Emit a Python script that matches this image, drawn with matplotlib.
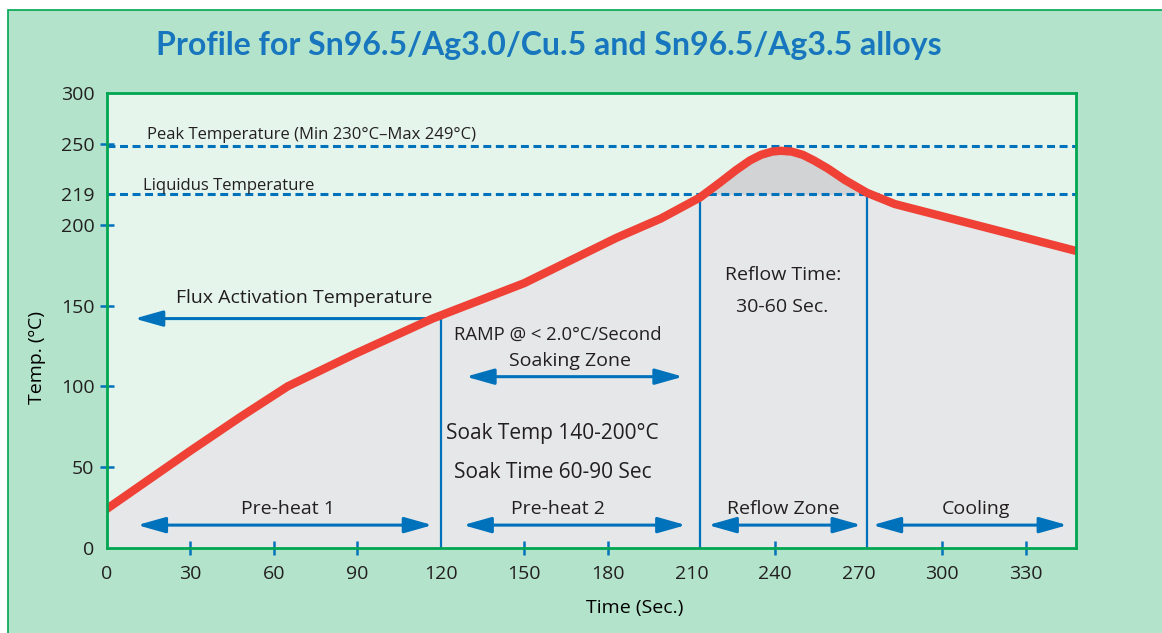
import matplotlib
matplotlib.use("Agg")
import numpy as np
import matplotlib.pyplot as plt
from matplotlib.patches import FancyArrowPatch, Rectangle

# solder reflow profile
time_s = [0, 30, 48, 65, 89, 117, 150, 183, 199, 213, 220, 226, 231, 235, 239,
          242, 246, 250, 254, 259, 265, 273, 283, 301, 319, 348]
temp_c = [24, 60, 81, 100, 120, 142, 164, 192, 204, 217, 226, 234, 240, 243.5,
          245.5, 246, 245.5, 243.5, 240, 235, 228, 220, 213, 205, 197, 184]

liquidus_c = 219
peak_c = 249
flux_c = 142
zone_edges_s = [120, 213, 273]

zone_names = ["Pre-heat 1", "Pre-heat 2", "Reflow Zone", "Cooling"]
zone_spans_s = [(11, 117), (128, 208), (216, 271), (275, 345)]
zone_label_s = [65, 162, 243, 312]
soak_span_s = (129, 207)
flux_tip_s = 10

x_ticks = list(range(0, 331, 30))
y_ticks = [0, 50, 100, 150, 200, 219, 250]
y_top = 282  # the frame stops here, the artwork labels it 300
y_top_label = "300"

BLUE = "#0072bc"
RED = "#ef4136"
GREEN = "#00a651"
TEXT = "#231f20"

plt.rcParams["font.family"] = ["Open Sans", "DejaVu Sans"]
plt.rcParams["text.color"] = TEXT

fig = plt.figure(figsize=(11.62, 6.33), dpi=100, facecolor="white")
fig.patches.append(Rectangle((7.5 / 1162, -0.05), 1.1, 1 - 10 / 633 + 0.05,
                             transform=fig.transFigure, facecolor="#b3e4cb",
                             edgecolor=GREEN, lw=1.2, zorder=-1))

ax = fig.add_axes([106.7 / 1162, 1 - 547.7 / 633, 969 / 1162, 455 / 633])
ax.set_facecolor("#e5f5ec")
ax.set_xlim(0, 348)
ax.set_ylim(0, y_top)

t = np.array(time_s, dtype=float)
T = np.array(temp_c, dtype=float)

ax.fill_between(t, 0, T, color="#e6e7e8", lw=0, zorder=1)
ax.fill_between(t, liquidus_c, T, where=T >= liquidus_c, interpolate=True,
                color="#d1d3d4", lw=0, zorder=1.1)

for level in (peak_c, liquidus_c):
    ax.axhline(level, color=BLUE, lw=2.2, ls=(0, (2.6, 1.5)), zorder=2)

# zone boundaries
ax.vlines(zone_edges_s[0], 0, flux_c, color=BLUE, lw=1.6, zorder=2)
ax.vlines(zone_edges_s[1:], 0, liquidus_c, color=BLUE, lw=1.6, zorder=2)


def arrow(x0, x1, y, style):
    ax.add_patch(FancyArrowPatch((x0, y), (x1, y), arrowstyle=style,
                                 mutation_scale=1, color=BLUE, lw=2.2,
                                 shrinkA=0, shrinkB=0, zorder=3))


head = "head_length=17,head_width=4.8"
arrow(zone_edges_s[0], flux_tip_s, flux_c, "-|>," + head)
for span in zone_spans_s:
    arrow(span[0], span[1], 14, "<|-|>," + head)
arrow(soak_span_s[0], soak_span_s[1], 106, "<|-|>," + head)

ax.plot(t, T, color=RED, lw=6, solid_joinstyle="round", zorder=4)

# annotations
ax.text(14.4, 253, "Peak Temperature (Min 230°C–Max 249°C)", fontsize=12,
        va="baseline", zorder=5)
ax.text(13.2, 222, "Liquidus Temperature", fontsize=12, va="baseline", zorder=5)
ax.text(70.8, 151.4, "Flux Activation Temperature", fontsize=14,
        ha="center", va="baseline", zorder=5)
ax.text(162, 128.7, "RAMP @ < 2.0°C/Second", fontsize=13.3,
        ha="center", va="baseline", zorder=5)
ax.text(166.5, 112.6, "Soaking Zone", fontsize=14, ha="center",
        va="baseline", zorder=5)
ax.text(243, 165.9, "Reflow Time:", fontsize=14, ha="center",
        va="baseline", zorder=5)
ax.text(242.5, 146.2, "30-60 Sec.", fontsize=14, ha="center",
        va="baseline", zorder=5)
ax.text(160.2, 67.2, "Soak Temp 140-200°C", fontsize=15, ha="center",
        va="baseline", zorder=5)
ax.text(160.2, 43, "Soak Time 60-90 Sec", fontsize=15, ha="center",
        va="baseline", zorder=5)
for name, xc in zip(zone_names, zone_label_s):
    ax.text(xc, 20.8, name, fontsize=14, ha="center", va="baseline", zorder=5)

# axes styling
for sp in ax.spines.values():
    sp.set_color(GREEN)
    sp.set_linewidth(2)
    sp.set_zorder(4.5)

ax.set_xticks(x_ticks)
ax.set_xticklabels([str(v) for v in x_ticks])
ax.set_yticks(y_ticks + [y_top])
ax.set_yticklabels([str(v) for v in y_ticks] + [y_top_label])
ax.tick_params(direction="inout", length=9.4, width=1.8, color=BLUE,
               labelsize=14, labelcolor=TEXT)
ax.tick_params(axis="x", pad=7.5)
ax.tick_params(axis="y", pad=4)

for tick, v in zip(ax.xaxis.get_major_ticks(), x_ticks):
    if v in (0, 120, 210, 270):
        tick.tick1line.set_visible(False)
for tick, v in zip(ax.yaxis.get_major_ticks(), y_ticks + [y_top]):
    if v in (0, liquidus_c, y_top):
        tick.tick1line.set_visible(False)

ax.set_xlabel("Time (Sec.)", fontsize=14)
ax.xaxis.set_label_coords(0.5446, -0.1429)
ax.xaxis.label.set_va("baseline")
ax.set_ylabel("Temp. (ºC)", fontsize=14)
ax.yaxis.set_label_coords(-0.0722, 0.418)
ax.yaxis.label.set_va("center")

fig.text(549.3 / 1162, 1 - 55 / 633,
         "Profile for Sn96.5/Ag3.0/Cu.5 and Sn96.5/Ag3.5 alloys",
         ha="center", va="baseline", fontsize=23, fontweight="bold",
         family=["Lato", "DejaVu Sans"], color="#1776bd")

fig.savefig("out.png", dpi=100)
